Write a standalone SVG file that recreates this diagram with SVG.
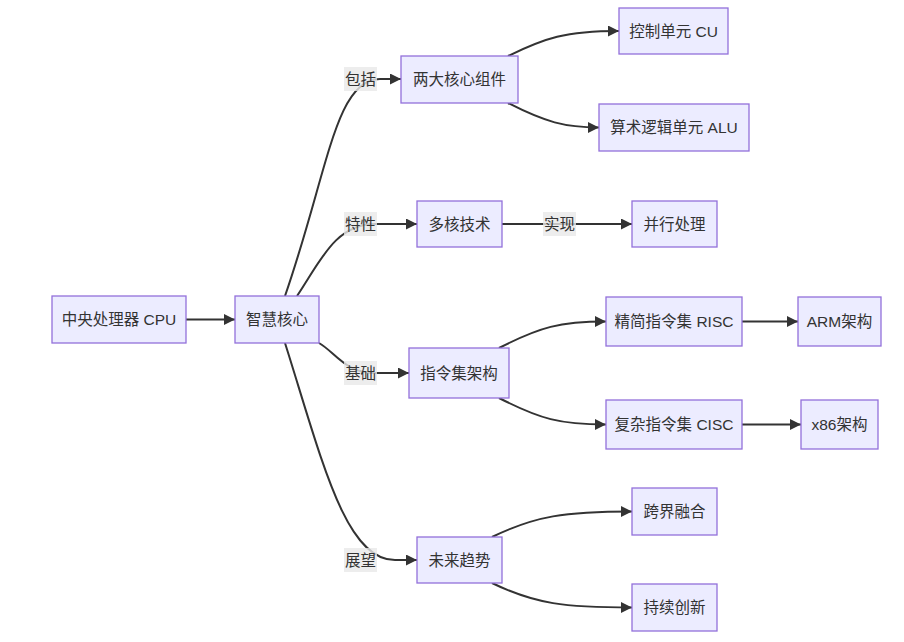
<svg xmlns="http://www.w3.org/2000/svg" width="904" height="642" viewBox="0 0 904 642">
<style>
.node rect{fill:#ECECFF;stroke:#9370DB;stroke-width:1.3}
text{font-family:"Liberation Sans","Noto Sans CJK SC",sans-serif;font-size:15.5px;fill:#333;text-anchor:middle;dominant-baseline:central}
.edge{fill:none;stroke:#333;stroke-width:2;marker-end:url(#arr)}
.lbl rect{fill:#e8e8e8;opacity:0.8}
</style>
<defs>
<marker id="arr" viewBox="0 0 10 10" refX="10" refY="5" markerWidth="12" markerHeight="11" markerUnits="userSpaceOnUse" orient="auto">
<path d="M0,0 L10,5 L0,10 z" fill="#333"/>
</marker>
</defs>
<rect width="904" height="642" fill="#fff"/>
<g id="connectors">
<path class="edge" d="M186,319.5 L235,319.5"/>
<path class="edge" d="M285,296 C328,172 335,79 380,79 L401,79"/>
<path class="edge" d="M297,296 C320,262 335,224 375,224 L417,224"/>
<path class="edge" d="M319,343 C335,352 345,373 375,373 L409,373"/>
<path class="edge" d="M285,343 C322,460 345,560 395,560 L417,560"/>
<path class="edge" d="M508,56 C545,38 565,31 619,31"/>
<path class="edge" d="M508,103 C545,122 565,127.5 599,127.5"/>
<path class="edge" d="M502,224 L632,224"/>
<path class="edge" d="M499,348 C540,327 560,321.5 606,321.5"/>
<path class="edge" d="M499,398 C540,419 560,424.5 606,424.5"/>
<path class="edge" d="M742,321.5 L798,321.5"/>
<path class="edge" d="M742,424.5 L801,424.5"/>
<path class="edge" d="M492,537 C535,516 565,511.5 632,511.5"/>
<path class="edge" d="M492,583 C535,604 565,607.5 632,607.5"/>
<g class="lbl"><rect x="344" y="67" width="33" height="24"/><text x="360.5" y="79">包括</text></g>
<g class="lbl"><rect x="344" y="212" width="33" height="24"/><text x="360.5" y="224">特性</text></g>
<g class="lbl"><rect x="543" y="212" width="33" height="24"/><text x="559.5" y="224">实现</text></g>
<g class="lbl"><rect x="344" y="361" width="33" height="24"/><text x="360.5" y="373">基础</text></g>
<g class="lbl"><rect x="344" y="548" width="33" height="24"/><text x="360.5" y="560">展望</text></g>
</g>
<g id="cpu" class="node"><rect x="52" y="296" width="134" height="47"/><text x="119" y="319.5">中央处理器 CPU</text></g>
<g id="core" class="node"><rect x="235" y="296" width="84" height="47"/><text x="277" y="319.5">智慧核心</text></g>
<g id="comp" class="node"><rect x="401" y="56" width="117" height="47"/><text x="459.5" y="79.5">两大核心组件</text></g>
<g id="cu" class="node"><rect x="619" y="8" width="109" height="46"/><text x="673.5" y="31">控制单元 CU</text></g>
<g id="alu" class="node"><rect x="599" y="104" width="150" height="47"/><text x="674" y="127.5">算术逻辑单元 ALU</text></g>
<g id="multi" class="node"><rect x="417" y="201" width="85" height="46"/><text x="459.5" y="224">多核技术</text></g>
<g id="para" class="node"><rect x="632" y="201" width="85" height="46"/><text x="674.5" y="224">并行处理</text></g>
<g id="isa" class="node"><rect x="409" y="348" width="100" height="50"/><text x="459" y="373">指令集架构</text></g>
<g id="risc" class="node"><rect x="606" y="297" width="136" height="49"/><text x="674" y="321.5">精简指令集 RISC</text></g>
<g id="arm" class="node"><rect x="798" y="297" width="83" height="49"/><text x="839.5" y="321.5">ARM架构</text></g>
<g id="cisc" class="node"><rect x="606" y="400" width="136" height="49"/><text x="674" y="424.5">复杂指令集 CISC</text></g>
<g id="x86" class="node"><rect x="801" y="400" width="77" height="49"/><text x="839.5" y="424.5">x86架构</text></g>
<g id="future" class="node"><rect x="417" y="537" width="85" height="46"/><text x="459.5" y="560">未来趋势</text></g>
<g id="cross" class="node"><rect x="632" y="488" width="85" height="47"/><text x="674.5" y="511.5">跨界融合</text></g>
<g id="innov" class="node"><rect x="632" y="584" width="85" height="47"/><text x="674.5" y="607.5">持续创新</text></g>
</svg>
